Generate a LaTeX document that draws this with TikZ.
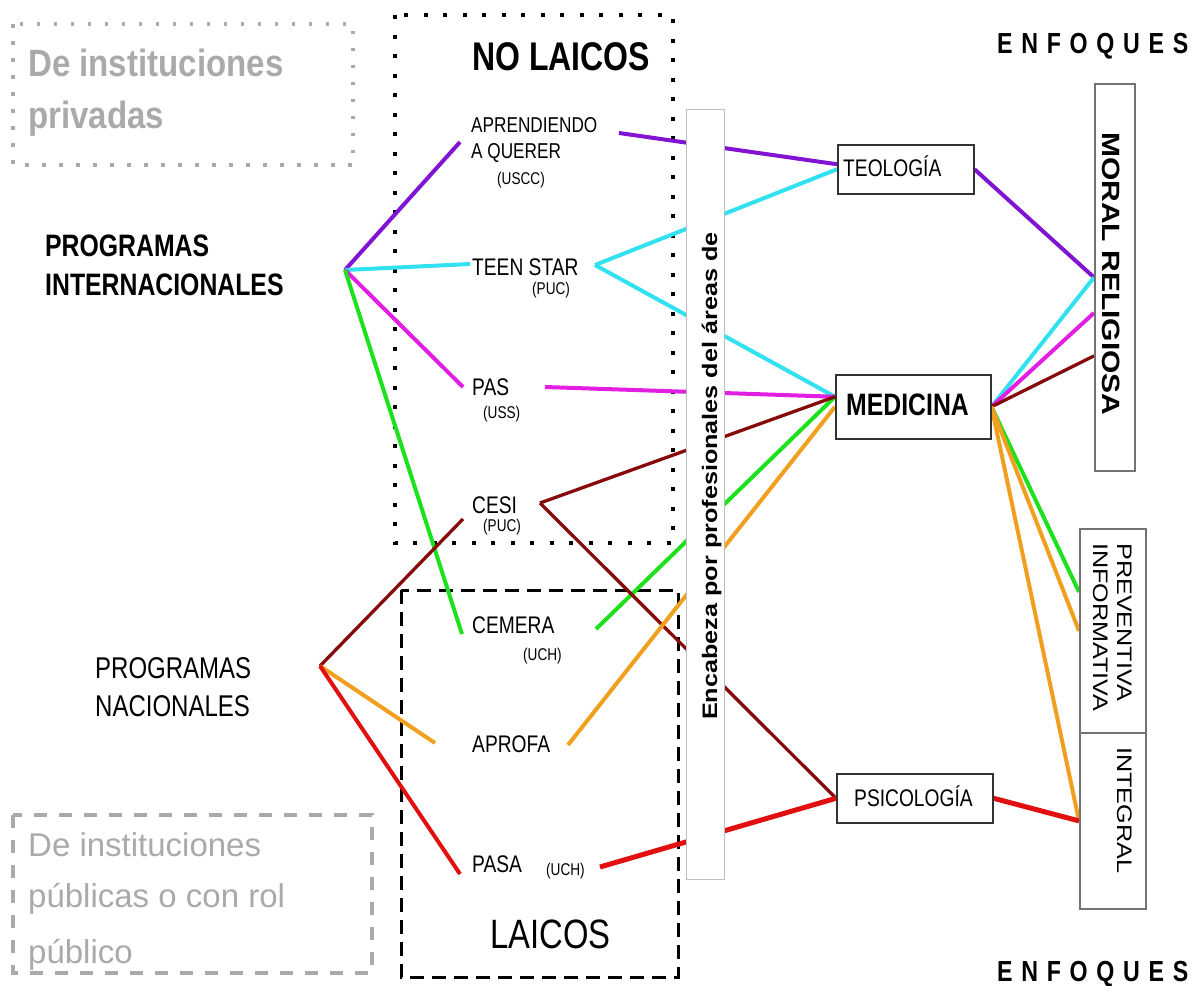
\documentclass[tikz,border=0pt]{standalone}
\usepackage{fontspec}
\setmainfont{Liberation Sans}
\newfontfamily\cf[FakeStretch=0.8]{Liberation Sans}
\newfontfamily\vf[FakeStretch=1.2]{Liberation Sans}
\newfontfamily\gf[FakeStretch=0.87]{Liberation Sans}
\newfontfamily\ef[FakeStretch=0.8,LetterSpace=30]{Liberation Sans}
\newcommand{\fsz}[1]{\fontsize{#1}{#1}\selectfont}
\usetikzlibrary{backgrounds}
\definecolor{cpurple}{RGB}{128,20,210}
\definecolor{ccyan}{RGB}{50,225,240}
\definecolor{cmag}{RGB}{225,30,225}
\definecolor{cdred}{RGB}{135,10,10}
\definecolor{cgreen}{RGB}{30,225,30}
\definecolor{corange}{RGB}{240,160,30}
\definecolor{cred}{RGB}{225,15,15}
\definecolor{cgrey}{RGB}{170,170,170}
\begin{document}
\begin{tikzpicture}[x=1pt,y=-1pt,
  lbl/.style={inner sep=0pt, anchor=base west, font=\cf\fsz{24}},
  small/.style={lbl, font=\cf\fsz{17}},
  vlbl/.style={inner sep=0pt, anchor=base west, rotate=-90, font=\vf\fsz{21}},
  conn/.style={line width=4pt},
  boxs/.style={draw=black!80, line width=1.5pt, fill=white, inner sep=0pt, anchor=north west},
  gbox/.style={draw=black!55, line width=1.8pt, fill=white, inner sep=0pt, anchor=north west}]
\useasboundingbox (0,0) rectangle (1196,985);

% ---- boxes (nodes)
\node[draw=black!25, line width=1pt, fill=white, inner sep=0pt, anchor=north west,
      minimum width=38pt, minimum height=770pt] (bar) at (686,109) {};
\node[rotate=90, anchor=base west, inner sep=0pt, font=\vf\bfseries\fsz{21}] (bartext) at (717,720) {Encabeza por profesionales del áreas de};

\node[boxs, minimum width=136pt, minimum height=49pt] (teo) at (837,144) {};
\node[boxs, minimum width=155pt, minimum height=64pt] (med) at (835,374) {};
\node[boxs, minimum width=156pt, minimum height=49pt] (psi) at (836,773) {};
\node[gbox, minimum width=40pt, minimum height=387pt] (moral) at (1094,83) {};
\node[gbox, minimum width=66pt, minimum height=204pt] (prev) at (1079,528) {};
\node[gbox, minimum width=66pt, minimum height=176pt] (integ) at (1079,732) {};

\node[lbl] (teotext) at (843,176) {TEOLOGÍA};
\node[lbl, font=\cf\bfseries\fsz{31}] (medtext) at (846,415) {MEDICINA};
\node[lbl] (psitext) at (854,806) {PSICOLOGÍA};
\node[vlbl, font=\vf\bfseries\fsz{25}] (moraltext) at (1102,132) {MORAL RELIGIOSA};
\node[vlbl] (prevtext) at (1117,543) {PREVENTIVA};
\node[vlbl] (inftext) at (1093,543) {INFORMATIVA};
\node[vlbl] (integtext) at (1117,747) {INTEGRAL};

\node[lbl, font=\ef\bfseries\fsz{29}] (enf1) at (997,53) {ENFOQUES};
\node[lbl, font=\ef\bfseries\fsz{29}] (enf2) at (997,981) {ENFOQUES};

% ---- left texts
\node[lbl, font=\gf\bfseries\fsz{38}, text=cgrey] (priv1) at (28,76) {De instituciones};
\node[lbl, font=\gf\bfseries\fsz{38}, text=cgrey] (priv2) at (28,128) {privadas};
\node[lbl, font=\fsz{33}, text=cgrey] (pub1) at (28,856) {De instituciones};
\node[lbl, font=\fsz{33}, text=cgrey] (pub2) at (28,907) {públicas o con rol};
\node[lbl, font=\fsz{33}, text=cgrey] (pub3) at (28,963) {público};

\node[lbl, font=\cf\bfseries\fsz{31}] (pi1) at (45,256) {PROGRAMAS};
\node[lbl, font=\cf\bfseries\fsz{31}] (pi2) at (45,295) {INTERNACIONALES};
\node[lbl, font=\cf\fsz{30}] (pn1) at (95,678) {PROGRAMAS};
\node[lbl, font=\cf\fsz{30}] (pn2) at (95,716) {NACIONALES};

\node[lbl, font=\cf\bfseries\fsz{40}] (nolaicos) at (472,70) {NO LAICOS};
\node[lbl, font=\cf\fsz{21.5}] (aprend) at (471,132) {APRENDIENDO};
\node[lbl, font=\cf\fsz{21.5}] (aquerer) at (471,158) {A QUERER};
\node[small] (uscc) at (497,184) {(USCC)};
\node[lbl] (teen) at (472,275) {TEEN STAR};
\node[small] (puc1) at (532,294) {(PUC)};
\node[lbl] (pas) at (472,395) {PAS};
\node[small] (uss) at (483,418) {(USS)};
\node[lbl] (cesi) at (472,513) {CESI};
\node[small] (puc2) at (483,531) {(PUC)};
\node[lbl] (cemera) at (472,633) {CEMERA};
\node[small] (uch1) at (523,660) {(UCH)};
\node[lbl] (aprofa) at (472,752) {APROFA};
\node[lbl] (pasa) at (472,872) {PASA};
\node[small] (uch2) at (546,875) {(UCH)};
\node[lbl, font=\cf\fsz{41}] (laicos) at (490,948) {LAICOS};

% ---- connector end points
\coordinate (hubI) at (345,270);
\coordinate (hubN) at (320,666);
\coordinate (aqL) at (460,142);
\coordinate (aqR) at (619,133);
\coordinate (tsL) at (470,264);
\coordinate (tsR) at (595,265);
\coordinate (pasL) at (463,387);
\coordinate (pasR) at (545,387);
\coordinate (cesiL) at (463,519);
\coordinate (cesiR) at (540,503);
\coordinate (cemL) at (462,634);
\coordinate (cemR) at (596,629);
\coordinate (aprL) at (435,743);
\coordinate (aprR) at (568,745);
\coordinate (pasaL) at (460,874);
\coordinate (pasaR) at (600,867);

\begin{pgfonlayer}{background}
% frames
\draw[cgrey, line width=3.5pt, dash pattern=on 3.5pt off 13.5pt] (13,24) rectangle (353,165);
\draw[black, line width=4pt, dash pattern=on 4pt off 15.5pt] (395,15) rectangle (673,543);
\draw[black, line width=3pt, dash pattern=on 14pt off 8pt] (401,590) rectangle (678,977);
\draw[cgrey, line width=4pt, dash pattern=on 13pt off 12pt] (13,815) rectangle (372,973);
% connectors
\draw[conn, cpurple] (hubI) -- (aqL);
\draw[conn, cpurple] (aqR) -- ([yshift=5pt]teo.west);
\draw[conn, cpurple] (teo.east) -- (moral.west);
\draw[conn, ccyan] (hubI) -- (tsL);
\draw[conn, ccyan] (tsR) -- (teo.west);
\draw[conn, ccyan] (tsR) -- ([yshift=10pt]med.west);
\draw[conn, ccyan] (med.east) -- (moral.west);
\draw[conn, cmag] (hubI) -- (pasL);
\draw[conn, cmag] (pasR) -- ([yshift=10pt]med.west);
\draw[conn, cmag] (med.east) -- ([yshift=-35.5pt]moral.west);
\draw[conn, cgreen] (hubI) -- (cemL);
\draw[conn, cgreen] (cemR) -- ([yshift=10pt]med.west);
\draw[conn, cgreen] (med.east) -- ([yshift=39pt]prev.west);
\draw[conn, cdred, line width=3.3pt] (hubN) -- (cesiL);
\draw[conn, cdred, line width=3.3pt] (cesiR) -- ([yshift=10pt]med.west);
\draw[conn, cdred, line width=3.3pt] (cesiR) -- (psi.west);
\draw[conn, cdred, line width=3.3pt] (med.east) -- ([yshift=-78.5pt]moral.west);
\draw[conn, corange] (hubN) -- (aprL);
\draw[conn, corange] (aprR) -- (med.west);
\draw[conn, corange] (med.east) -- (prev.west);
\draw[conn, corange] (med.east) -- (integ.west);
\draw[conn, cred] (hubN) -- (pasaL);
\draw[conn, cred, line width=5pt] (pasaR) -- (psi.west);
\draw[conn, cred, line width=5pt] (psi.east) -- (integ.west);
\end{pgfonlayer}
\end{tikzpicture}
\end{document}
